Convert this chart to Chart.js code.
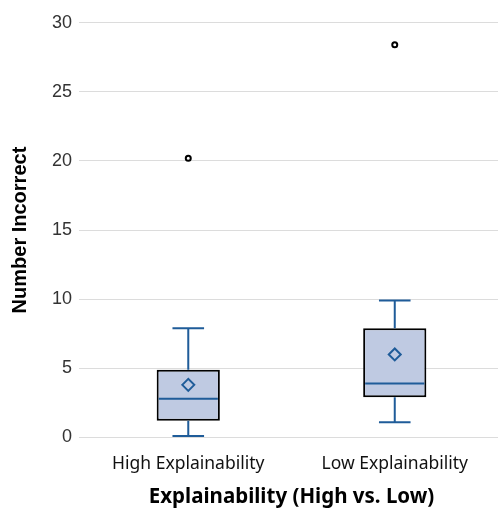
<!DOCTYPE html>
<html>
<head>
<meta charset="utf-8">
<script src="https://cdn.jsdelivr.net/npm/chart.js@4/dist/chart.umd.min.js"></script>
<style>
  html, body { margin: 0; padding: 0; background: #fff; overflow: hidden; }
  #wrap { width: 506px; height: 510px; }
</style>
</head>
<body>
<div id="wrap"><canvas id="chartBox"></canvas></div>
<script>
const groups = ["High Explainability", "Low Explainability"];
const q1 = [1.2, 2.9];
const q3 = [4.9, 7.9];
const medians = [2.8, 3.9];
const means = [3.8, 6.0];
const whiskerLow = [0.1, 1.1];
const whiskerHigh = [7.9, 9.9];
const outliers = [20.2, 28.4];
const yTicks = [0, 5, 10, 15, 20, 25, 30];

const BLUE = "#1f5c99";
const el = (id) => document.getElementById(id);

// whiskers + median lines, drawn from the scales
const boxLines = {
    id: "boxLines",
    afterDatasetsDraw(chart) {
        const { ctx, scales: { x, y } } = chart;
        const meta = chart.getDatasetMeta(0);
        ctx.save();
        ctx.strokeStyle = BLUE;
        ctx.lineWidth = 2;
        groups.forEach((g, i) => {
            const cx = x.getPixelForValue(i);
            const bar = meta.data[i];
            const half = bar.width / 2;
            const cap = half / 2;
            ctx.beginPath();
            // upper whisker
            ctx.moveTo(cx, y.getPixelForValue(q3[i]));
            ctx.lineTo(cx, y.getPixelForValue(whiskerHigh[i]));
            ctx.moveTo(cx - cap, y.getPixelForValue(whiskerHigh[i]));
            ctx.lineTo(cx + cap, y.getPixelForValue(whiskerHigh[i]));
            // lower whisker
            ctx.moveTo(cx, y.getPixelForValue(q1[i]));
            ctx.lineTo(cx, y.getPixelForValue(whiskerLow[i]));
            ctx.moveTo(cx - cap, y.getPixelForValue(whiskerLow[i]));
            ctx.lineTo(cx + cap, y.getPixelForValue(whiskerLow[i]));
            // median
            ctx.moveTo(cx - half + 2, y.getPixelForValue(medians[i]));
            ctx.lineTo(cx + half - 2, y.getPixelForValue(medians[i]));
            ctx.stroke();
        });
        ctx.restore();
    }
};

new Chart(el("chartBox").getContext("2d"), {
    type: "bar",
    data: {
        labels: groups,
        datasets: [
            {
                label: "IQR",
                data: groups.map((_, i) => [q1[i], q3[i]]),
                backgroundColor: "#bfcae2",
                borderColor: "#000",
                borderWidth: 2,
                borderSkipped: false,
                categoryPercentage: 1,
                barPercentage: 0.306,
                order: 3,
            },
            {
                type: "line",
                label: "Mean",
                data: means,
                showLine: false,
                pointStyle: "rectRot",
                pointRadius: 6,
                pointBorderWidth: 2,
                pointBorderColor: BLUE,
                pointBackgroundColor: "#bfcae2",
                order: 1,
            },
            {
                type: "line",
                label: "Outliers",
                data: outliers,
                showLine: false,
                pointStyle: "circle",
                pointRadius: 2.5,
                pointBorderWidth: 2,
                pointBorderColor: "#000",
                pointBackgroundColor: "#fff",
                order: 1,
            },
        ],
    },
    options: {
        responsive: true,
        maintainAspectRatio: false,
        animation: false,
        layout: { padding: { top: 22.7, right: 1, left: 4, bottom: -3 } },
        plugins: { legend: { display: false }, tooltip: { enabled: false } },
        scales: {
            x: {
                grid: { display: false },
                border: { display: false },
                ticks: { color: "#111", font: { family: "Noto Sans", size: 17.5 }, padding: 8 },
                title: {
                    display: true,
                    text: "Explainability (High vs. Low)",
                    color: "#000",
                    font: { family: "Noto Sans", size: 20.5, weight: "bold" },
                    padding: { top: 2 },
                },
            },
            y: {
                min: 0,
                max: 30,
                afterBuildTicks: (axis) => { axis.ticks = yTicks.map((v) => ({ value: v })); },
                grid: { color: "#dcdcdc", lineWidth: 1, tickLength: 6 },
                border: { display: false },
                ticks: { color: "#333", font: { family: "Liberation Sans", size: 18 }, padding: 7 },
                title: {
                    display: true,
                    text: "Number Incorrect",
                    color: "#000",
                    font: { family: "Liberation Sans", size: 20, weight: "bold" },
                    padding: { bottom: 13 },
                },
            },
        },
    },
    plugins: [boxLines],
});
</script>
</body>
</html>
